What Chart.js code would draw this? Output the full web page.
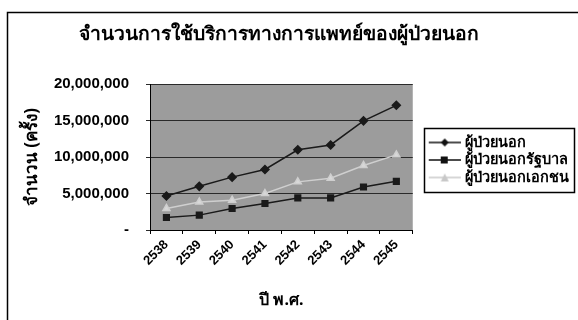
<!DOCTYPE html>
<html>
<head>
<meta charset="utf-8">
<script src="https://cdn.jsdelivr.net/npm/chart.js@4"></script>
<style>
  html, body { margin: 0; padding: 0; background: #ffffff; }
  #wrap { width: 578px; height: 320px; }
</style>
</head>
<body>
<div id="wrap"><canvas id="chart" width="578" height="320"></canvas></div>
<script>
// ข้อมูลจำนวนการใช้บริการ (ครั้ง)
const years = ['2538', '2539', '2540', '2541', '2542', '2543', '2544', '2545'];
const allPatients = [4670000, 5990000, 7250000, 8300000, 11000000, 11660000, 14970000, 17100000];
const govPatients = [1720000, 2040000, 2950000, 3630000, 4400000, 4400000, 5900000, 6670000];
const privatePatients = [2950000, 3850000, 4080000, 5000000, 6600000, 7100000, 8850000, 10300000];
const yTicks = [0, 5000000, 10000000, 15000000, 20000000];

const FONT = "Tahoma, 'Noto Sans', 'DejaVu Sans', sans-serif";
const NUM_FONT = "'Liberation Sans', Arial, sans-serif";

// ไอคอนตำนาน: เส้น + จุด (ว่างด้านซ้ายเพื่อเว้นระยะจากกรอบ)
function legendIcon(color, style) {
  const c = document.createElement('canvas');
  c.width = 48; c.height = 10;
  const g = c.getContext('2d');
  g.strokeStyle = color; g.fillStyle = color; g.lineWidth = 1.5;
  g.beginPath(); g.moveTo(16, 5); g.lineTo(48, 5); g.stroke();
  g.beginPath();
  const m = 32;
  if (style === 'rectRot') { g.moveTo(m, 1); g.lineTo(m + 4, 5); g.lineTo(m, 9); g.lineTo(m - 4, 5); }
  else if (style === 'rect') { g.rect(m - 4, 1.5, 7, 7); }
  else { g.moveTo(m, 1); g.lineTo(m + 4, 9); g.lineTo(m - 4, 9); }
  g.closePath(); g.fill();
  return c;
}

const framePlugin = {
  id: 'frame',
  afterLayout(chart) {
    // จัดชื่อกราฟให้อยู่กึ่งกลางแบบเดียวกับต้นฉบับ
    const t = chart.titleBlock;
    t.left = 0; t.right = 558;
  },
  beforeDraw(chart) {
    const ctx = chart.ctx, a = chart.chartArea;
    ctx.save();
    ctx.fillStyle = '#ffffff';
    ctx.fillRect(0, 0, chart.width, chart.height);
    ctx.strokeStyle = '#000000'; ctx.lineWidth = 1.5;
    ctx.strokeRect(7.5, 12.5, 575, 310);
    ctx.fillStyle = '#9c9c9c';
    ctx.fillRect(a.left, a.top, a.right - a.left, a.bottom - a.top);
    ctx.restore();
  },
  afterDraw(chart) {
    const boxes = chart.legend.legendHitBoxes;
    if (!boxes || !boxes.length) return;
    const l = Math.min(...boxes.map(b => b.left)) + 8;
    const t = Math.min(...boxes.map(b => b.top)) - 7;
    const r = Math.min(Math.max(...boxes.map(b => b.left + b.width)) + 5, chart.width - 2);
    const bt = Math.max(...boxes.map(b => b.top + b.height)) + 7;
    const ctx = chart.ctx;
    ctx.save();
    ctx.strokeStyle = '#000000'; ctx.lineWidth = 1.5;
    ctx.strokeRect(Math.round(l) + 0.5, Math.round(t) + 0.5, Math.round(r - l), Math.round(bt - t));
    ctx.restore();
  }
};

new Chart(document.getElementById('chart'), {
  type: 'line',
  data: {
    labels: years,
    datasets: [{
      label: 'ผู้ป่วยนอก',
      data: allPatients,
      borderColor: '#1a1a1a', backgroundColor: '#1a1a1a',
      borderWidth: 1.5, pointStyle: 'rectRot', pointRadius: 4,
      tension: 0
    }, {
      label: 'ผู้ป่วยนอกรัฐบาล',
      data: govPatients,
      borderColor: '#1a1a1a', backgroundColor: '#1a1a1a',
      borderWidth: 1.5, pointStyle: 'rect', pointRadius: 4,
      tension: 0
    }, {
      label: 'ผู้ป่วยนอกเอกชน',
      data: privatePatients,
      borderColor: '#cfcfcf', backgroundColor: '#d8d8d8',
      borderWidth: 1.5, pointStyle: 'triangle', pointRadius: 4,
      tension: 0
    }]
  },
  options: {
    responsive: false,
    animation: false,
    layout: { padding: { left: 18, right: -1, top: 0, bottom: 0 } },
    plugins: {
      title: {
        display: true,
        text: 'จำนวนการใช้บริการทางการแพทย์ของผู้ป่วยนอก',
        color: '#000000',
        font: { family: FONT, size: 19.3, weight: 'bold' },
        padding: { top: 23, bottom: 38 }
      },
      legend: {
        position: 'right',
        maxWidth: 220,
        labels: {
          color: '#000000',
          font: { family: FONT, size: 14.5, weight: 'bold', lineHeight: 1.25 },
          usePointStyle: true,
          pointStyleWidth: 42,
          boxHeight: 10,
          padding: 3,
          generateLabels(chart) {
            return chart.data.datasets.map((ds, i) => ({
              text: ds.label,
              pointStyle: legendIcon(i === 2 ? '#c8c8c8' : '#111111', ds.pointStyle),
              fontColor: '#000000',
              hidden: false,
              datasetIndex: i
            }));
          }
        }
      },
      tooltip: { enabled: false }
    },
    scales: {
      x: {
        offset: true,
        afterFit(axis) { axis.height = 90; },
        grid: { display: true, drawOnChartArea: false, offset: true, color: '#000000', tickLength: 4 },
        border: { display: true, color: '#000000', width: 1 },
        ticks: {
          color: '#000000', maxRotation: 45, minRotation: 45, padding: 3,
          font: { family: NUM_FONT, size: 13, weight: 'bold' }
        },
        title: {
          display: true, text: 'ปี พ.ศ.', color: '#000000',
          font: { family: FONT, size: 16, weight: 'bold' }, padding: { top: 2, bottom: 10 }
        }
      },
      y: {
        min: 0, max: 20000000,
        afterFit(axis) { axis.width = 132; },
        afterBuildTicks(axis) { axis.ticks = yTicks.map(v => ({ value: v })); },
        grid: { color: '#2a2a2a', lineWidth: 1, tickLength: 4 },
        border: { display: true, color: '#000000', width: 1 },
        ticks: {
          color: '#000000', padding: 17,
          font: { family: NUM_FONT, size: 15, weight: 'bold' },
          callback: v => v === 0 ? '-' : v.toLocaleString('en-US')
        },
        title: {
          display: true, text: 'จำนวน (ครั้ง)', color: '#000000',
          font: { family: FONT, size: 17, weight: 'bold' }, padding: { top: 4, bottom: 0 }
        }
      }
    }
  },
  plugins: [framePlugin]
});
</script>
</body>
</html>
